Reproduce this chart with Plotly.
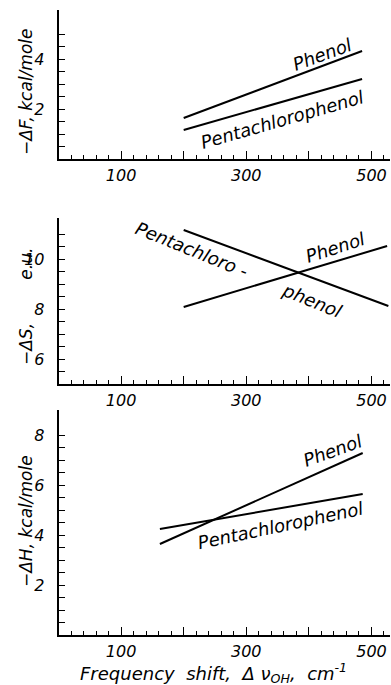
import plotly.graph_objects as go
import numpy as np

# ---- data ----
shift_F = [200, 485]
dF_phenol = [1.64, 4.32]
dF_penta = [1.16, 3.20]

shift_S_phenol = [200, 525]
dS_phenol = [8.08, 10.52]
shift_S_penta = [200, 527]
dS_penta = [11.16, 8.12]

shift_H = [162, 486]
dH_phenol = [3.64, 7.28]
dH_penta = [4.24, 5.64]

x_labelvals = [100, 300, 500]
x_labeltext = ["100", "300", "500"]
x_longvals = [200, 400]

yF_vals, yF_text = [2, 4], ["2", "4"]
yS_vals, yS_text = [6, 8, 10], ["6", "8", "10"]
yH_vals, yH_text = [2, 4, 6, 8], ["2", "4", "6", "8"]

FONT = "DejaVu Sans"
W, H = 391, 685

def px_y(p):
    return 1 - p / H

fig = go.Figure()

line_style = dict(color="black", width=2)
fig.add_trace(go.Scatter(x=shift_F, y=dF_phenol, mode="lines", line=line_style, xaxis="x", yaxis="y", showlegend=False))
fig.add_trace(go.Scatter(x=shift_F, y=dF_penta, mode="lines", line=line_style, xaxis="x", yaxis="y", showlegend=False))
fig.add_trace(go.Scatter(x=shift_S_phenol, y=dS_phenol, mode="lines", line=line_style, xaxis="x2", yaxis="y2", showlegend=False))
fig.add_trace(go.Scatter(x=shift_S_penta, y=dS_penta, mode="lines", line=line_style, xaxis="x2", yaxis="y2", showlegend=False))
fig.add_trace(go.Scatter(x=shift_H, y=dH_phenol, mode="lines", line=line_style, xaxis="x3", yaxis="y3", showlegend=False))
fig.add_trace(go.Scatter(x=shift_H, y=dH_penta, mode="lines", line=line_style, xaxis="x3", yaxis="y3", showlegend=False))
# empty traces so the overlay axes (long unlabeled ticks at 200/400) are drawn
for xa, ya in [("x4", "y"), ("x5", "y2"), ("x6", "y3")]:
    fig.add_trace(go.Scatter(x=[None], y=[None], mode="lines", xaxis=xa, yaxis=ya, showlegend=False, hoverinfo="skip"))

xdom = [58.5 / W, 389.5 / W]
xrange_ = [0, (389.5 - 59) / 0.625]
tickfont = dict(family=FONT, size=16, color="black", style="italic")
x_minor = [v for v in range(20, 530, 20) if v % 100 != 0]

def xaxis(anchor):
    return dict(domain=xdom, range=xrange_, anchor=anchor, showline=True, linecolor="black", linewidth=1.5,
                showgrid=False, zeroline=False, ticks="inside", ticklen=8, tickwidth=1, tickcolor="black",
                tickmode="array", tickvals=x_labelvals, ticktext=x_labeltext, tickfont=tickfont, ticklabelstandoff=1,
                minor=dict(ticks="inside", ticklen=4, tickwidth=1, tickcolor="black", tickmode="array",
                           tickvals=x_minor, showgrid=False),
                fixedrange=True)

def xaxis_long(over, anchor):
    return dict(domain=xdom, range=xrange_, anchor=anchor, overlaying=over, showline=False,
                showgrid=False, zeroline=False, ticks="inside", ticklen=8, tickwidth=1, tickcolor="black",
                tickmode="array", tickvals=x_longvals, showticklabels=False, fixedrange=True)

def yaxis(anchor, dom, rng, lo, hi, vals, text):
    minor_vals = [float(v) for v in np.arange(lo, hi + 0.001, 0.5) if float(v) not in vals]
    return dict(domain=dom, range=rng, anchor=anchor, showline=True, linecolor="black", linewidth=1.5,
                showgrid=False, zeroline=False, ticks="inside", ticklen=7, tickwidth=1, tickcolor="black",
                tickmode="array", tickvals=vals, ticktext=text, tickfont=tickfont, ticklabelstandoff=9,
                minor=dict(ticks="inside", ticklen=7, tickwidth=1, tickcolor="black", tickmode="array",
                           tickvals=minor_vals, showgrid=False),
                fixedrange=True)

fig.update_layout(
    width=W, height=H, margin=dict(l=0, r=0, t=0, b=0),
    paper_bgcolor="white", plot_bgcolor="white",
    xaxis=xaxis("y"),
    yaxis=yaxis("x", [px_y(159), px_y(10)], [0, 5.96], 0.5, 5.0, yF_vals, yF_text),
    xaxis2=xaxis("y2"),
    yaxis2=yaxis("x2", [px_y(384), px_y(218)], [5, 11.64], 5.5, 11.0, yS_vals, yS_text),
    xaxis3=xaxis("y3"),
    yaxis3=yaxis("x3", [px_y(635), px_y(410)], [0, 9.0], 0.5, 8.0, yH_vals, yH_text),
    xaxis4=xaxis_long("x", "y"),
    xaxis5=xaxis_long("x2", "y2"),
    xaxis6=xaxis_long("x3", "y3"),
)

ann_font = dict(family=FONT, size=18, color="black", style="italic")
notes = [
    ("x", "y", 421, 4.16, "Phenol", -20),
    ("x", "y", 358, 1.56, "Pentachlorophenol", -16),
    ("x2", "y2", 213, 10.36, "Pentachloro -", 22),
    ("x2", "y2", 405, 8.36, "phenol", 22),
    ("x2", "y2", 442, 10.44, "Phenol", -18),
    ("x3", "y3", 438, 7.4, "Phenol", -20),
    ("x3", "y3", 354, 4.4, "Pentachlorophenol", -12),
]
for xr, yr, x, y, t, a in notes:
    fig.add_annotation(x=x, y=y, xref=xr, yref=yr, text=t, textangle=a, showarrow=False, font=ann_font,
                       xanchor="center", yanchor="middle")

NB = "\u00a0"
title_font = dict(family=FONT, size=17, color="black", style="italic")
for ypx, txt in [(92, "\u2212\u0394F, kcal/mole"),
                 (307, "\u2212\u0394S," + NB * 8 + "e.u."),
                 (521, "\u2212\u0394H, kcal/mole")]:
    fig.add_annotation(x=26 / W, y=px_y(ypx), xref="paper", yref="paper", text=txt, textangle=-90,
                       showarrow=False, font=title_font, xanchor="center", yanchor="middle")
fig.add_annotation(x=213 / W, y=px_y(673), xref="paper", yref="paper",
                   text="Frequency" + NB * 2 + "shift," + NB * 2 + "\u0394 \u03bd<sub>OH</sub>," + NB * 2 + "cm<sup>-1</sup>",
                   showarrow=False, xanchor="center", yanchor="middle",
                   font=dict(family=FONT, size=18, color="black", style="italic"))

fig.write_html("out.html", config={"displayModeBar": False},
               post_script="document.body.style.margin='0px';document.body.style.overflow='hidden';")
